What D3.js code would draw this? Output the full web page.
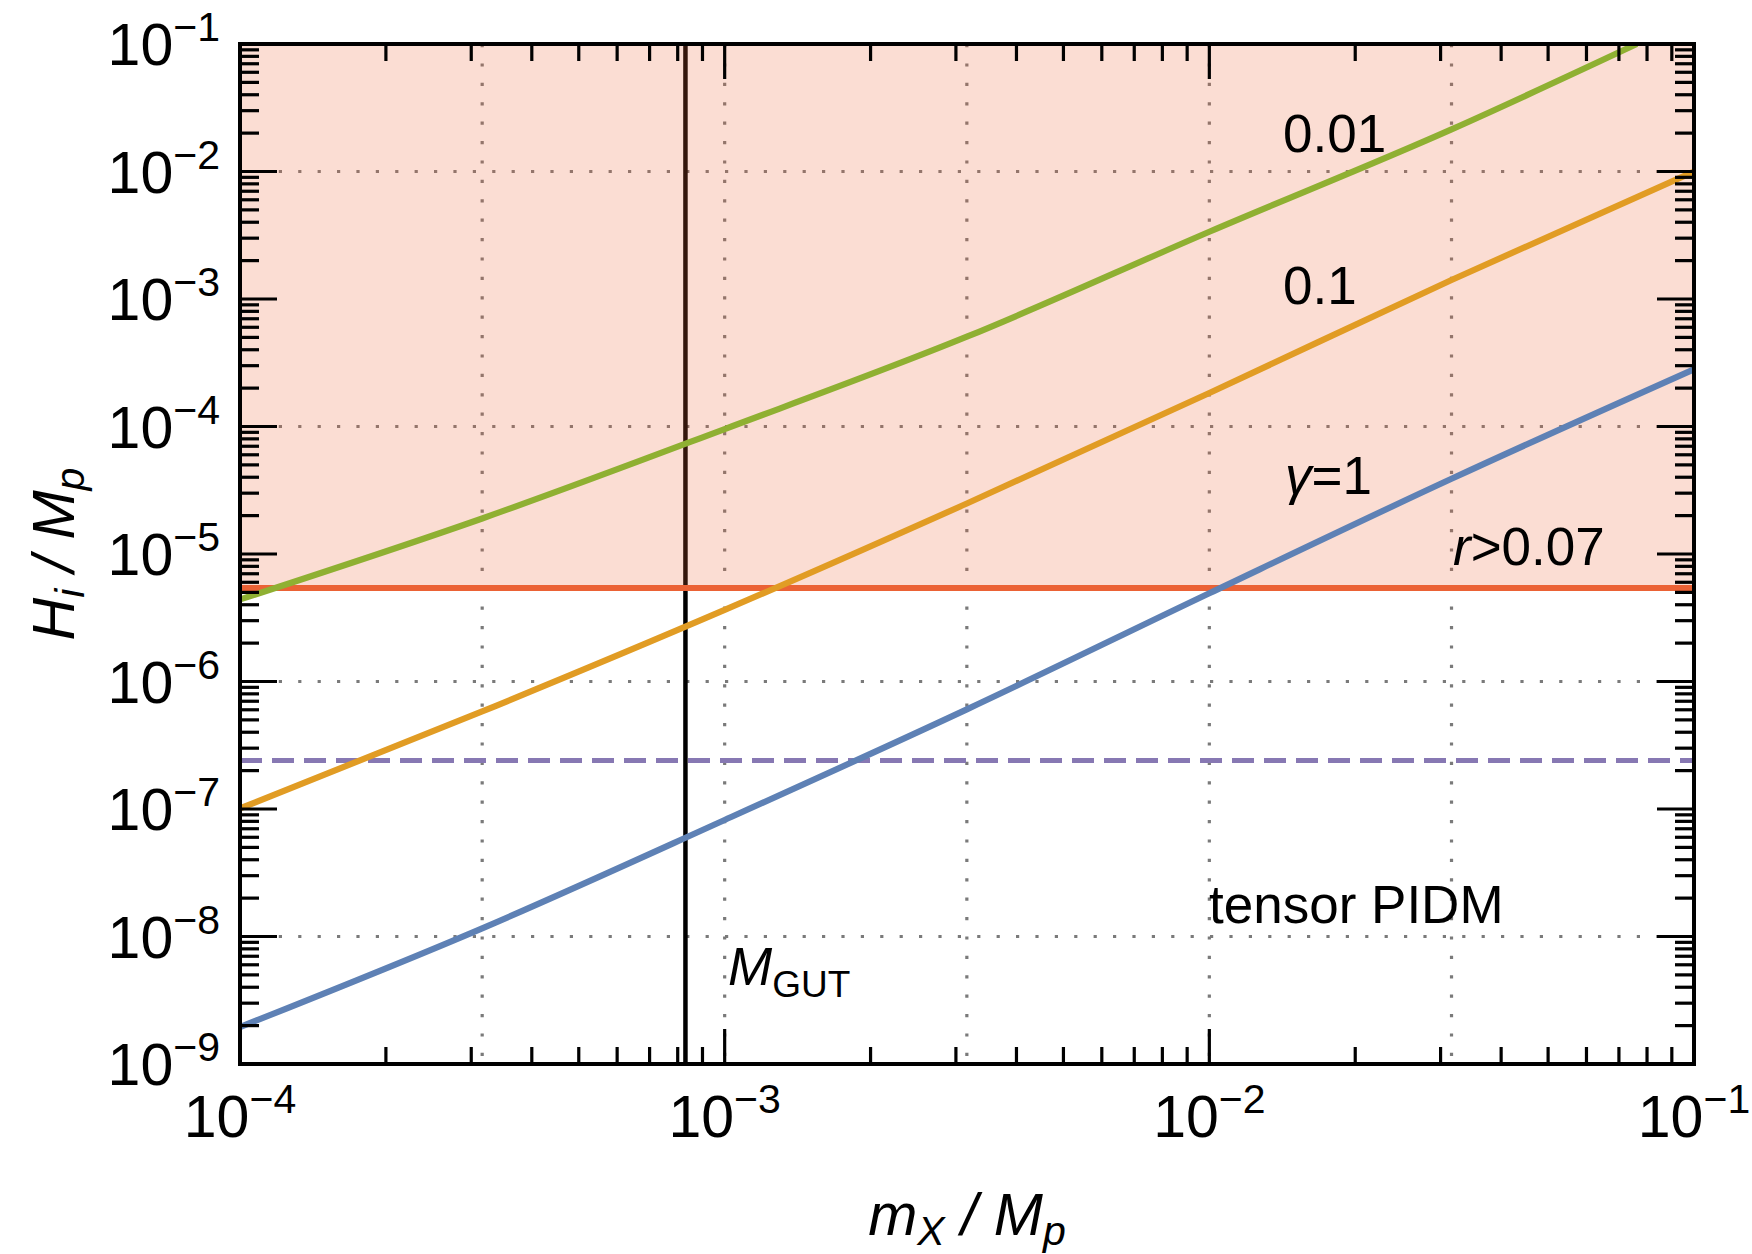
<!DOCTYPE html>
<html>
<head>
<meta charset="utf-8">
<script src="https://cdn.jsdelivr.net/npm/d3@7"></script>
<style>
  body { margin: 0; background: #fff; }
  svg { display: block; font-family: "Liberation Sans", Arial, Helvetica, sans-serif; }
</style>
</head>
<body>
<svg id="chart"></svg>
<script>
// ---- data ----
const mX = [1e-4, 3.16e-4, 1e-3, 3.16e-3, 1e-2, 3.16e-2, 1e-1];
const hGamma1 = [1.95e-9, 1.16e-8, 8.2e-8, 6.05e-7, 4.92e-6, 3.89e-5, 2.81e-4];
const hGamma01 = [1.01e-7, 5.82e-7, 3.64e-6, 2.49e-5, 1.83e-4, 1.41e-3, 1.0e-2];
const mXGreen = [1e-4, 3.16e-4, 1e-3, 3.16e-3, 1e-2, 3.16e-2, 7.62e-2];
const hGamma001 = [4.4e-6, 1.9e-5, 9.55e-5, 5.06e-4, 3.37e-3, 2.14e-2, 1e-1];

const rBound = 5.4e-6;      // r > 0.07
const dashedLevel = 2.4e-7; // purple dashed
const mGUT = 8.3e-4;

const xTickExp = [-4, -3, -2, -1];
const yTickExp = [-9, -8, -7, -6, -5, -4, -3, -2, -1];
const xGrid = [3.16e-4, 1e-3, 3.16e-3, 1e-2, 3.16e-2];
const yGrid = [1e-8, 1e-6, 1e-4, 1e-2];

const width = 1752, height = 1254;
const margin = { top: 44, right: 58, bottom: 190, left: 240 };
const x0 = margin.left, x1 = width - margin.right;
const y0 = margin.top, y1 = height - margin.bottom;

const svg = d3.select("#chart").attr("width", width).attr("height", height);
svg.append("rect").attr("width", width).attr("height", height).attr("fill", "#fff");

const x = d3.scaleLog().domain([1e-4, 1e-1]).range([x0, x1]);
const y = d3.scaleLog().domain([1e-9, 1e-1]).range([y1, y0]);

svg.append("clipPath").attr("id", "plotClip")
  .append("rect").attr("x", x0).attr("y", y0).attr("width", x1 - x0).attr("height", y1 - y0);

const plot = svg.append("g").attr("clip-path", "url(#plotClip)");

// grid (dotted)
plot.selectAll("line.gx").data(xGrid).enter().append("line")
  .attr("x1", d => x(d)).attr("x2", d => x(d)).attr("y1", y0).attr("y2", y1)
  .attr("stroke", "#7a7a7a").attr("stroke-width", 3.2).attr("stroke-dasharray", "3.2,16.2");
plot.selectAll("line.gy").data(yGrid).enter().append("line")
  .attr("x1", x0).attr("x2", x1).attr("y1", d => y(d)).attr("y2", d => y(d))
  .attr("stroke", "#7a7a7a").attr("stroke-width", 3.2).attr("stroke-dasharray", "3.2,16.2");

// M_GUT vertical line
plot.append("line")
  .attr("x1", x(mGUT)).attr("x2", x(mGUT)).attr("y1", y0).attr("y2", y1)
  .attr("stroke", "#000").attr("stroke-width", 4.5);

// excluded region r > 0.07
plot.append("rect")
  .attr("x", x0).attr("y", y0).attr("width", x1 - x0).attr("height", y(rBound) - y0)
  .attr("fill", "#EB6235").attr("fill-opacity", 0.22);

plot.append("line")
  .attr("x1", x0).attr("x2", x1).attr("y1", y(rBound)).attr("y2", y(rBound))
  .attr("stroke", "#EB6235").attr("stroke-width", 6);

plot.append("line")
  .attr("x1", x0).attr("x2", x1).attr("y1", y(dashedLevel)).attr("y2", y(dashedLevel))
  .attr("stroke", "#8778B3").attr("stroke-width", 5).attr("stroke-dasharray", "22,10");

const line = d3.line().x(d => x(d[0])).y(d => y(d[1])).curve(d3.curveMonotoneX);
const series = [
  { xs: mX, ys: hGamma1, color: "#5E81B5" },
  { xs: mX, ys: hGamma01, color: "#E19C24" },
  { xs: mXGreen, ys: hGamma001, color: "#8FB032" }
];
series.forEach(s => {
  plot.append("path")
    .datum(s.xs.map((v, i) => [v, s.ys[i]]))
    .attr("d", line)
    .attr("fill", "none").attr("stroke", s.color).attr("stroke-width", 6.2);
});

// frame
svg.append("rect").attr("x", x0).attr("y", y0).attr("width", x1 - x0).attr("height", y1 - y0)
  .attr("fill", "none").attr("stroke", "#000").attr("stroke-width", 4);

// ticks on all four sides, pointing inwards
const minorX = [], minorY = [];
for (let k = -4; k <= -2; k++) for (let m = 2; m <= 9; m++) minorX.push(m * Math.pow(10, k));
for (let k = -9; k <= -2; k++) for (let m = 2; m <= 9; m++) minorY.push(m * Math.pow(10, k));
const majorX = xTickExp.map(e => Math.pow(10, e));
const majorY = yTickExp.map(e => Math.pow(10, e));

const ticks = svg.append("g").attr("stroke", "#000").attr("stroke-width", 3.2);
function xTicks(vals, len) {
  vals.forEach(v => {
    ticks.append("line").attr("x1", x(v)).attr("x2", x(v)).attr("y1", y1).attr("y2", y1 - len);
    ticks.append("line").attr("x1", x(v)).attr("x2", x(v)).attr("y1", y0).attr("y2", y0 + len);
  });
}
function yTicks(vals, len) {
  vals.forEach(v => {
    ticks.append("line").attr("y1", y(v)).attr("y2", y(v)).attr("x1", x0).attr("x2", x0 + len);
    ticks.append("line").attr("y1", y(v)).attr("y2", y(v)).attr("x1", x1).attr("x2", x1 - len);
  });
}
xTicks(minorX, 17); xTicks(majorX, 35);
yTicks(minorY, 19); yTicks(majorY, 37);

// tick labels 10^k
function powLabel(sel, e) {
  sel.append("tspan").attr("font-size", 59).text("10");
  sel.append("tspan").attr("font-size", 41).attr("dy", -24).text("\u2212" + Math.abs(e));
}
xTickExp.forEach(e => {
  const t = svg.append("text").attr("x", x(Math.pow(10, e))).attr("y", 1137)
    .attr("text-anchor", "middle");
  powLabel(t, e);
});
yTickExp.forEach(e => {
  const t = svg.append("text").attr("x", 220).attr("y", y(Math.pow(10, e)) + 21)
    .attr("text-anchor", "end");
  powLabel(t, e);
});

// axis titles
const xt = svg.append("text").attr("x", (x0 + x1) / 2).attr("y", 1235)
  .attr("text-anchor", "middle").attr("font-style", "italic").attr("font-size", 59);
xt.append("tspan").text("m");
xt.append("tspan").attr("font-size", 41).attr("dy", 10).text("X");
xt.append("tspan").attr("dy", -10).text(" / M");
xt.append("tspan").attr("font-size", 41).attr("dy", 10).text("p");

const yt = svg.append("text").attr("transform", `translate(74,${(y0 + y1) / 2}) rotate(-90)`)
  .attr("text-anchor", "middle").attr("font-style", "italic").attr("font-size", 59);
yt.append("tspan").text("H");
yt.append("tspan").attr("font-size", 41).attr("dy", 10).text("i");
yt.append("tspan").attr("dy", -10).text(" / M");
yt.append("tspan").attr("font-size", 41).attr("dy", 10).text("p");

// annotations
const ann = svg.append("g").attr("font-size", 53).attr("fill", "#000");
ann.append("text").attr("x", 1283).attr("y", 152).text("0.01");
ann.append("text").attr("x", 1283).attr("y", 304).text("0.1");
const g1 = ann.append("text").attr("x", 1285).attr("y", 494);
g1.append("tspan").attr("font-style", "italic").text("\u03b3");
g1.append("tspan").text("=1");
const rt = ann.append("text").attr("x", 1453).attr("y", 565);
rt.append("tspan").attr("font-style", "italic").text("r");
rt.append("tspan").text(">0.07");
ann.append("text").attr("x", 1209).attr("y", 923).text("tensor PIDM");
const mg = ann.append("text").attr("x", 728).attr("y", 985);
mg.append("tspan").attr("font-style", "italic").text("M");
mg.append("tspan").attr("font-size", 37).attr("dy", 12).text("GUT");
</script>
</body>
</html>
